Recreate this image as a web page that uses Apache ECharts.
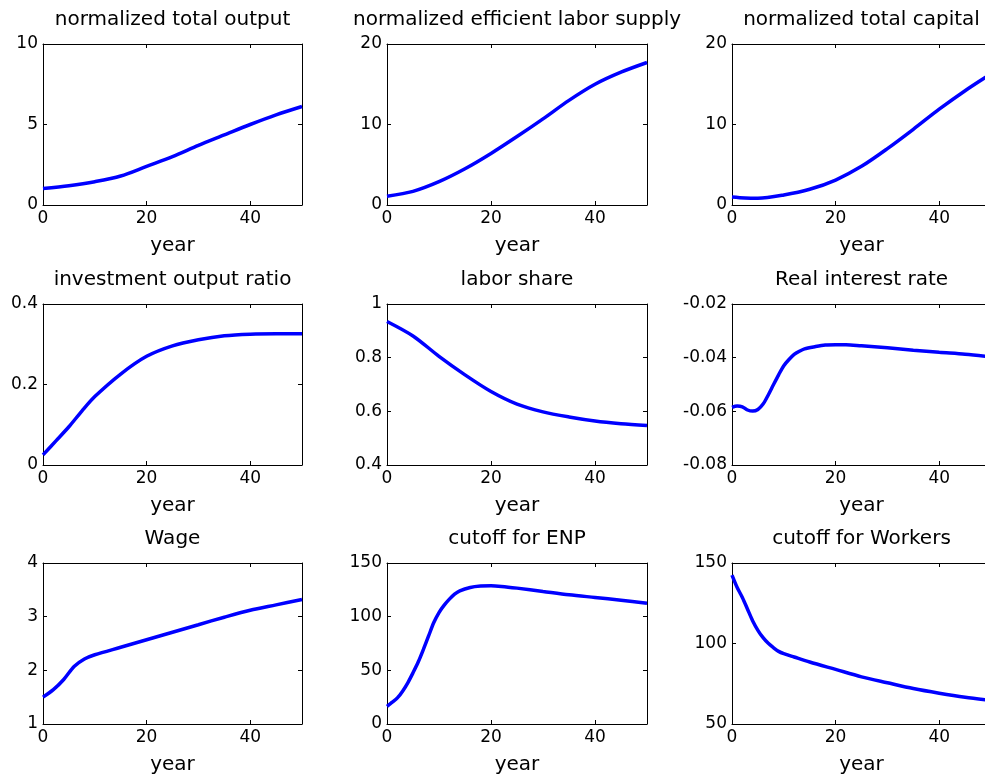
<!DOCTYPE html>
<html>
<head>
<meta charset="utf-8">
<script src="https://cdn.jsdelivr.net/npm/echarts@6/dist/echarts.min.js"></script>
<style>
html,body{margin:0;padding:0;background:#fff;overflow:hidden;}
#chart{width:985px;height:780px;}
</style>
</head>
<body>
<div id="chart"></div>
<script>
// ---- data ----
var titles = ['normalized total output', 'normalized efficient labor supply', 'normalized total capital',
  'investment output ratio', 'labor share', 'Real interest rate',
  'Wage', 'cutoff for ENP', 'cutoff for Workers'];

var outputYears = [0, 5, 10, 15, 20, 25, 30, 35, 40, 45, 50];
var outputValues = [1.02, 1.2, 1.45, 1.8, 2.4, 3.0, 3.7, 4.35, 5.0, 5.6, 6.12];

var laborYears = [0, 5, 10, 15, 20, 25, 30, 35, 40, 45, 50];
var laborValues = [1.1, 1.7, 2.9, 4.5, 6.4, 8.5, 10.7, 13.0, 15.0, 16.5, 17.7];

var capitalYears = [0, 2.5, 5, 10, 15, 20, 25, 30, 35, 40, 45, 50];
var capitalValues = [1.0, 0.88, 0.85, 1.25, 1.95, 3.1, 4.8, 7.0, 9.4, 11.9, 14.2, 16.3];

var investYears = [0, 2.5, 5, 7.5, 10, 15, 20, 25, 30, 35, 40, 45, 50];
var investValues = [0.025, 0.06, 0.095, 0.134, 0.17, 0.226, 0.27, 0.296, 0.311, 0.321, 0.325, 0.326, 0.326];

var shareYears = [0, 5, 10, 15, 20, 25, 30, 35, 40, 45, 50];
var shareValues = [0.935, 0.881, 0.805, 0.736, 0.674, 0.627, 0.598, 0.579, 0.564, 0.554, 0.547];

var rateYears = [0, 1, 2, 3, 4, 5, 6, 7, 8, 9, 10, 11, 12, 13, 14, 16, 18, 20, 22, 25, 30, 35, 40, 45, 50];
var rateValues = [-0.0585, -0.058, -0.0583, -0.0595, -0.0599, -0.0593, -0.0573, -0.0539, -0.0501, -0.0464,
  -0.043, -0.0407, -0.0388, -0.0376, -0.0367, -0.0359, -0.0353, -0.0352, -0.0352, -0.0356,
  -0.0363, -0.0372, -0.038, -0.0387, -0.0397];

var wageYears = [0, 2, 4, 6, 8, 10, 15, 20, 25, 30, 35, 40, 45, 50];
var wageValues = [1.5, 1.64, 1.83, 2.07, 2.21, 2.29, 2.43, 2.57, 2.71, 2.85, 2.99, 3.12, 3.22, 3.32];

var enpYears = [0, 1, 2, 3, 4, 5, 6, 7, 8, 9, 10, 11, 12, 13, 14, 16, 18, 20, 22, 25, 30, 35, 40, 45, 50];
var enpValues = [16.5, 20.3, 24.3, 30.6, 38.4, 47.7, 57.7, 69.5, 82, 94.5, 103.8, 110.7, 116.3, 121, 124.1,
  127.2, 128.5, 128.8, 128.2, 126.6, 123.5, 120.4, 117.9, 115.4, 112.6];

var workersYears = [0, 1, 2, 3, 4, 5, 6, 7, 8, 9, 10, 12, 15, 20, 25, 30, 35, 40, 45, 50];
var workersValues = [142.5, 134.8, 128.6, 121.3, 114, 108.2, 103.6, 100.1, 97.4, 95.1, 93.7, 91.6, 88.5,
  83.9, 79.3, 75.6, 72.0, 69.1, 66.6, 64.7];

var yMins = [0, 0, 0, 0, 0.4, -0.08, 1, 0, 50];
var yMaxs = [10, 20, 20, 0.4, 1, -0.02, 4, 150, 150];
var yIntervals = [5, 10, 10, 0.2, 0.2, 0.02, 1, 50, 50];
var xMin = 0, xMax = 50, xInterval = 20;
var xLabel = 'year';

var allYears = [outputYears, laborYears, capitalYears, investYears, shareYears, rateYears, wageYears, enpYears, workersYears];
var allValues = [outputValues, laborValues, capitalValues, investValues, shareValues, rateValues, wageValues, enpValues, workersValues];

// ---- layout ----
var colLeft = [43, 387, 732];
var colWidth = [259, 260, 259];
var rowTop = [44, 304, 563];
var plotH = 161;
var titleY = [20, 280, 539];
var FONT = 'DejaVu Sans';

var grids = [], xAxes = [], yAxes = [], series = [], graphics = [];
for (var i = 0; i < 9; i++) {
  var r = Math.floor(i / 3), c = i % 3;
  grids.push({left: colLeft[c], top: rowTop[r], width: colWidth[c], height: plotH, show: false,
    containLabel: false, outerBoundsMode: 'none'});
  var lineStyle = {show: true, onZero: false, lineStyle: {color: '#000', width: 1}};
  var tick = {show: true, inside: true, length: 4, lineStyle: {color: '#000', width: 1}};
  xAxes.push({
    type: 'value', gridIndex: i, position: 'bottom', min: xMin, max: xMax, interval: xInterval,
    axisLine: lineStyle, axisTick: tick, splitLine: {show: false},
    axisLabel: {color: '#000', fontFamily: FONT, fontSize: 17, margin: 5,
      formatter: function (v) { return v === 50 ? '' : String(v); }},
    name: xLabel, nameLocation: 'middle', nameGap: 31,
    nameTextStyle: {color: '#000', fontFamily: FONT, fontSize: 20}
  });
  xAxes.push({
    type: 'value', gridIndex: i, position: 'top', min: xMin, max: xMax, interval: xInterval,
    axisLine: lineStyle, axisTick: tick, splitLine: {show: false}, axisLabel: {show: false}
  });
  yAxes.push({
    type: 'value', gridIndex: i, position: 'left', min: yMins[i], max: yMaxs[i], interval: yIntervals[i],
    axisLine: lineStyle, axisTick: tick, splitLine: {show: false},
    axisLabel: {color: '#000', fontFamily: FONT, fontSize: 17, margin: 5}
  });
  yAxes.push({
    type: 'value', gridIndex: i, position: 'right', min: yMins[i], max: yMaxs[i], interval: yIntervals[i],
    axisLine: lineStyle, axisTick: tick, splitLine: {show: false}, axisLabel: {show: false}
  });
  var pts = allYears[i].map(function (y, k) { return [y, allValues[i][k]]; });
  series.push({
    type: 'line', xAxisIndex: 2 * i, yAxisIndex: 2 * i, data: pts,
    showSymbol: false, symbol: 'none', smooth: 0.3,
    lineStyle: {color: '#0000ff', width: 3.5}, itemStyle: {color: '#0000ff'}
  });
  graphics.push({
    type: 'text', x: colLeft[c] + colWidth[c] / 2, y: titleY[r],
    style: {text: titles[i], fill: '#000', font: '20px "' + FONT + '"', textAlign: 'center', textVerticalAlign: 'middle'}
  });
}

var chart = echarts.init(document.getElementById('chart'), null, {renderer: 'canvas'});
chart.setOption({
  backgroundColor: '#fff',
  animation: false,
  grid: grids,
  xAxis: xAxes,
  yAxis: yAxes,
  series: series,
  graphic: graphics
});
</script>
</body>
</html>
